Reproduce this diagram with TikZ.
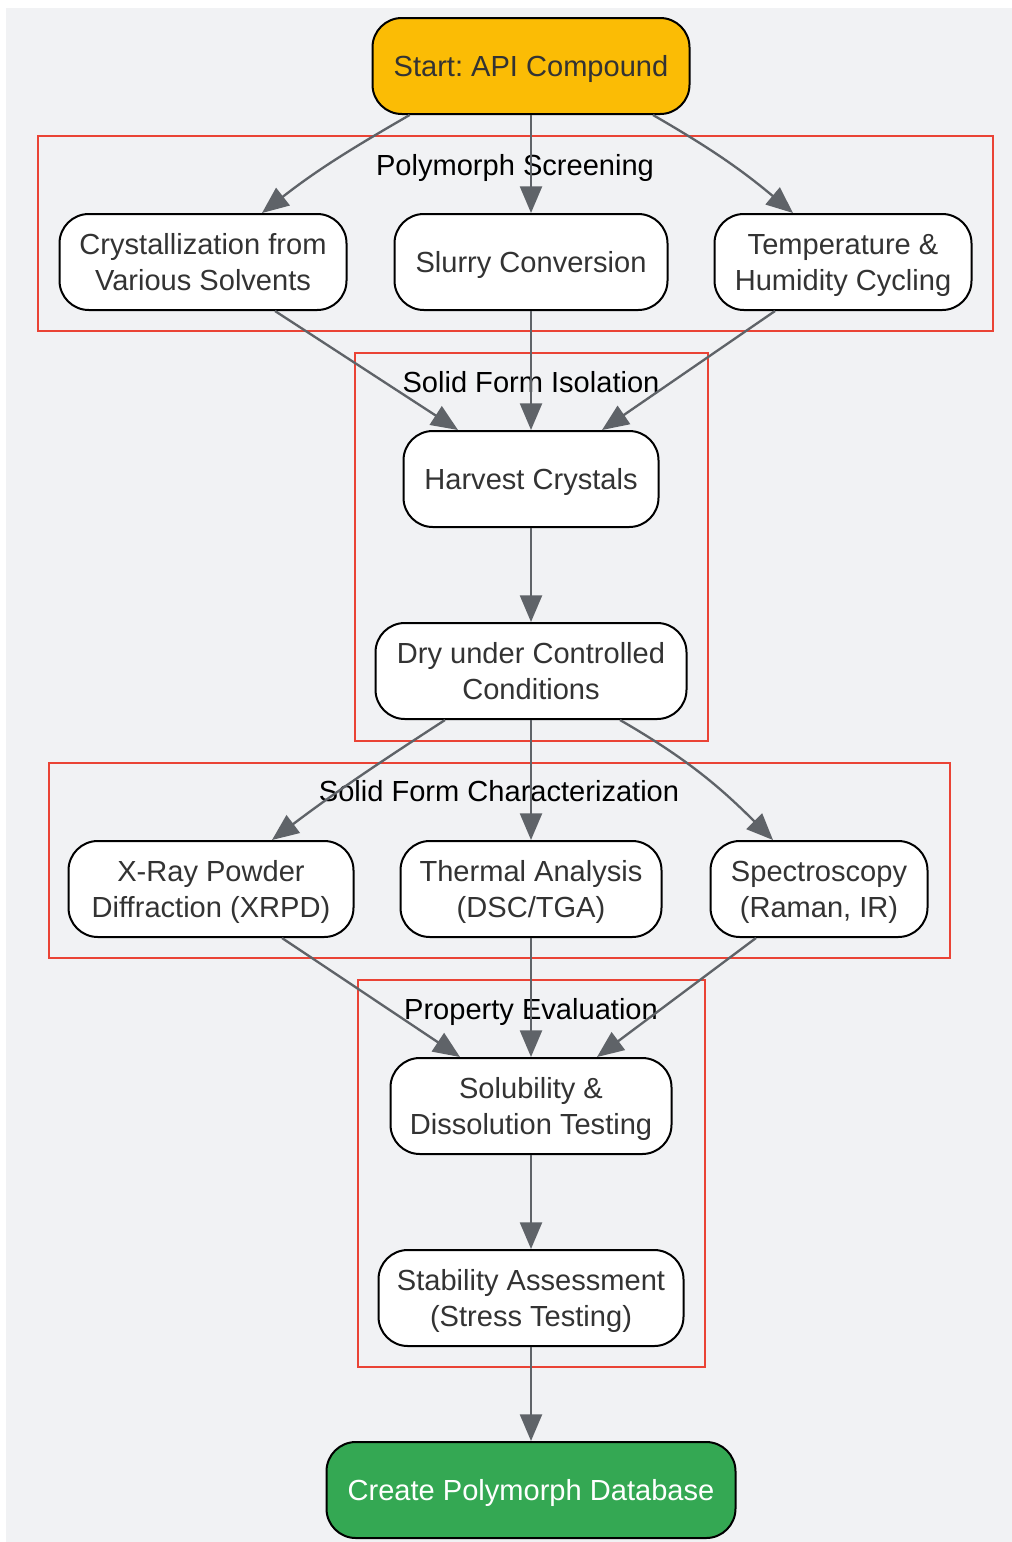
\documentclass[tikz,border=0pt]{standalone}
\usepackage{fontspec}
\setmainfont{Liberation Sans}
\frenchspacing
\usetikzlibrary{arrows.meta}

\definecolor{bgGray}{HTML}{F1F2F4}
\definecolor{grpRed}{HTML}{EA4335}
\definecolor{edgeGray}{HTML}{5F6368}
\definecolor{txtGray}{HTML}{333333}
\definecolor{startAmber}{HTML}{FBBC05}
\definecolor{endGreen}{HTML}{34A853}

\tikzset{
  stage/.style={draw=black, line width=1.5pt, fill=white, rounded corners=22pt,
    minimum height=72pt, inner sep=2pt, align=center, text=txtGray, text depth=0pt,
    font=\fontsize{21.8}{27}\selectfont},
  grp/.style={draw=grpRed, line width=1.5pt},
  grplabel/.style={font=\fontsize{21.8}{27}\selectfont, text=black, inner sep=0pt, text depth=0pt},
  flow/.style={draw=edgeGray, line width=1.75pt, -{Triangle[length=20pt,width=16.5pt]}},
}

\begin{document}
\begin{tikzpicture}[x=0.75pt,y=-0.75pt]
  \useasboundingbox (0,0) rectangle (1012,1542);
  \fill[bgGray] (6,8) rectangle (1012,1542);

  % groups
  \draw[grp] (38,136) rectangle (993,331);
  \draw[grp] (355,353) rectangle (708,741);
  \draw[grp] (49,763) rectangle (950,958);
  \draw[grp] (358,980) rectangle (705,1367);
  \node[grplabel] (lblscreen) at (515,165) {Polymorph Screening};
  \node[grplabel] (lbliso) at (531,382) {Solid Form Isolation};
  \node[grplabel] (lblchar) at (499,791) {Solid Form Characterization};
  \node[grplabel] (lbleval) at (531,1009) {Property Evaluation};

  % stages
  \node[stage, fill=startAmber, minimum width=237.75pt] (start) at (531,66) {Start: API Compound};
  \node[stage, minimum width=215.25pt] (cryst) at (203,262) {Crystallization from\\Various Solvents};
  \node[stage, minimum width=204.75pt] (slurry) at (531,262) {Slurry Conversion};
  \node[stage, minimum width=192.75pt] (temp) at (843,262) {Temperature \&\\Humidity Cycling};
  \node[stage, minimum width=191.25pt] (harvest) at (531,479) {Harvest Crystals};
  \node[stage, minimum width=233.25pt] (dry) at (531,671) {Dry under Controlled\\Conditions};
  \node[stage, minimum width=213.75pt] (xrpd) at (211,889) {X-Ray Powder\\Diffraction (XRPD)};
  \node[stage, minimum width=195.75pt] (thermal) at (531,889) {Thermal Analysis\\(DSC/TGA)};
  \node[stage, minimum width=162.75pt] (spec) at (819,889) {Spectroscopy\\(Raman, IR)};
  \node[stage, minimum width=210.75pt] (solub) at (531,1106) {Solubility \&\\Dissolution Testing};
  \node[stage, minimum width=228.75pt] (stab) at (531,1298) {Stability Assessment\\(Stress Testing)};
  \node[stage, fill=endGreen, text=white, minimum width=306.75pt] (create) at (531,1490) {Create Polymorph Database};

  % flows
  \draw[flow] ([xshift=-91pt]start.south) to[out=210,in=38] ([xshift=44.25pt]cryst.north);
  \draw[flow] (start.south) -- (slurry.north);
  \draw[flow] ([xshift=91.5pt]start.south) to[out=-30,in=140] ([xshift=-37.5pt]temp.north);
  \draw[flow] ([xshift=54pt]cryst.south) -- ([xshift=-54.75pt]harvest.north);
  \draw[flow] (slurry.south) -- (harvest.north);
  \draw[flow] ([xshift=-51pt]temp.south) -- ([xshift=53.25pt]harvest.north);
  \draw[flow] (harvest.south) -- (dry.north);
  \draw[flow] ([xshift=-64.5pt]dry.south) to[out=213,in=37] ([xshift=45.75pt]xrpd.north);
  \draw[flow] (dry.south) -- (thermal.north);
  \draw[flow] ([xshift=66.75pt]dry.south) to[out=-30,in=135] ([xshift=-34.5pt]spec.north);
  \draw[flow] ([xshift=53.25pt]xrpd.south) -- ([xshift=-53.25pt]solub.north);
  \draw[flow] (thermal.south) -- (solub.north);
  \draw[flow] ([xshift=-47.25pt]spec.south) -- ([xshift=49.5pt]solub.north);
  \draw[flow] (solub.south) -- (stab.north);
  \draw[flow] (stab.south) -- (create.north);
\end{tikzpicture}
\end{document}
